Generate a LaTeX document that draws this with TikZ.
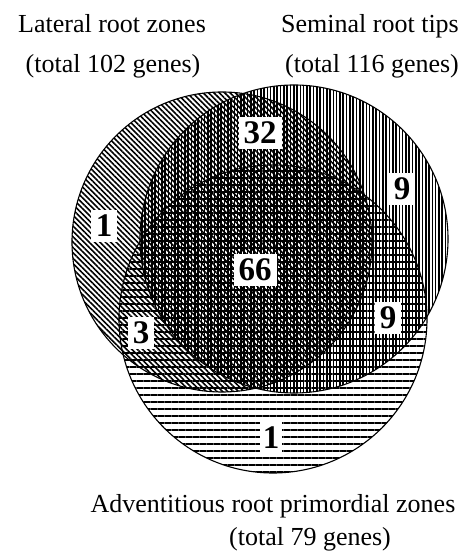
\documentclass[tikz,border=0pt]{standalone}
\usepackage{fontspec}
\setmainfont{Liberation Serif}
\usetikzlibrary{patterns.meta}
\begin{document}
\begin{tikzpicture}[x=1pt,y=1pt,
  setc/.style={circle, draw=black, line width=1.1pt, inner sep=0pt, minimum size=#1},
  diag/.style={pattern={Lines[angle=-45,distance=3.8pt,line width=1.6pt]}},
  vert/.style={pattern={Lines[angle=90,distance=3.3pt,line width=1.6pt]}},
  horz/.style={pattern={Lines[angle=0,distance=7pt,line width=1.6pt]}},
  num/.style={fill=white, inner xsep=5pt, inner ysep=5pt, font=\fontsize{33}{33}\selectfont\bfseries},
  lab/.style={anchor=base, font=\fontsize{26}{30}\selectfont}]
\useasboundingbox (0,0) rectangle (473,556);
% set circles
\node[setc=300pt, diag] (L) at (222,314) {};
\node[setc=308pt, vert] (S) at (294,317) {};
\node[setc=308pt, horz] (A) at (273,237) {};
% titles
\node[lab] (tL1) at (112,523) {Lateral root zones};
\node[lab] (tL2) at (113,483) {(total 102 genes)};
\node[lab] (tS1) at (370,523) {Seminal root tips};
\node[lab] (tS2) at (372,483) {(total 116 genes)};
\node[lab] (tA1) at (273,43) {Adventitious root primordial zones};
\node[lab] (tA2) at (310,10) {(total 79 genes)};
% counts
\node[num] (n32) at (260,423) {32};
\node[num] (n9a) at (402,367) {9};
\node[num] (n1a) at (104,330) {1};
\node[num] (n66) at (255,286) {66};
\node[num] (n9b) at (388,238) {9};
\node[num] (n3) at (141,223) {3};
\node[num, inner xsep=3pt] (n1b) at (271,118) {1};
\end{tikzpicture}
\end{document}
